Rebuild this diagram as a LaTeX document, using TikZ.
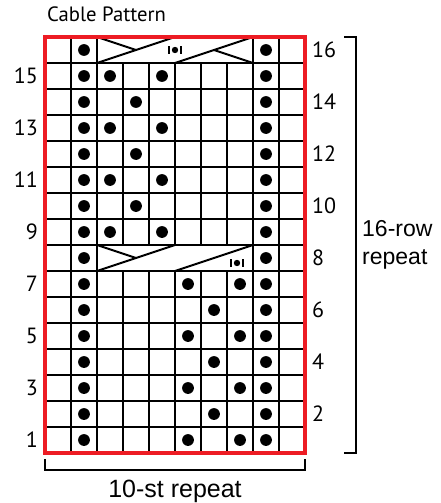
\documentclass[tikz,border=0pt]{standalone}
\usepackage{fontspec}
\setmainfont{PT Sans}
\newfontfamily\arl{Liberation Sans}
\definecolor{chartred}{RGB}{237,28,36}
\begin{document}
\begin{tikzpicture}[x=1pt,y=-1pt,
  gridline/.style={line width=2pt,black},
  cableline/.style={line width=2pt,black,line cap=round},
  rowlab/.style={font=\fontsize{22}{22}\selectfont,inner sep=0pt},
  bracketline/.style={line width=2pt,black},
  bigtext/.style={font=\arl\fontsize{23}{28}\selectfont,inner sep=0pt},
]
\useasboundingbox (0,0) rectangle (440,503);
% grid
\foreach \i in {1,...,9} \draw[gridline] (45+26*\i,37) -- (45+26*\i,453);
\foreach \j in {1,...,15} \draw[gridline] (45,37+26*\j) -- (305,37+26*\j);
% cable cells (rows 16 and 8)
\fill[white] (98,38) rectangle (252,62);
\fill[white] (98,246) rectangle (252,270);
% row 16 cable
\coordinate (a1) at (97,63);  \coordinate (a2) at (175,37);
\coordinate (a3) at (97,37);  \coordinate (a4) at (136,50);
\coordinate (a5) at (175,63); \coordinate (a6) at (253,37);
\coordinate (a7) at (214,50); \coordinate (a8) at (253,63);
\draw[cableline] (a1) -- (a2);
\draw[cableline] (a3) -- (a4);
\draw[cableline] (a5) -- (a6);
\draw[cableline] (a7) -- (a8);
% row 8 cable
\coordinate (b1) at (97,271);  \coordinate (b2) at (175,245);
\coordinate (b3) at (97,245);  \coordinate (b4) at (136,258);
\coordinate (b5) at (175,271); \coordinate (b6) at (253,245);
\draw[cableline] (b1) -- (b2);
\draw[cableline] (b3) -- (b4);
\draw[cableline] (b5) -- (b6);
% purl-symbol marks
\foreach \cx/\cy in {175/50, 237/263}{
  \fill (\cx-7,\cy-4) rectangle (\cx-5,\cy+4);
  \fill (\cx+5,\cy-4) rectangle (\cx+7,\cy+4);
  \fill (\cx,\cy) circle (3.2);
}
% dots
\foreach \r in {1,...,16}{
  \fill (45+26*1.5,453-26*\r+13) circle (5.9);
  \fill (45+26*8.5,453-26*\r+13) circle (5.9);
}
\foreach \r in {15,13,11,9}{
  \fill (45+26*2.5,453-26*\r+13) circle (5.9);
  \fill (45+26*4.5,453-26*\r+13) circle (5.9);
}
\foreach \r in {14,12,10}{
  \fill (45+26*3.5,453-26*\r+13) circle (5.9);
}
\foreach \r in {7,5,3,1}{
  \fill (45+26*5.5,453-26*\r+13) circle (5.9);
  \fill (45+26*7.5,453-26*\r+13) circle (5.9);
}
\foreach \r in {6,4,2}{
  \fill (45+26*6.5,453-26*\r+13) circle (5.9);
}
% red border
\draw[line width=4pt,chartred] (45,37) rectangle (305,453);
% row numbers
\foreach \r in {1,3,...,15}
  \node[rowlab,anchor=east] (L\r) at (38,453-26*\r+13) {\r};
\foreach \r in {2,4,...,16}
  \node[rowlab,anchor=west] (R\r) at (312,453-26*\r+13) {\r};
% title
\node[font=\fontsize{20.7}{20.7}\selectfont,inner sep=0pt,anchor=base west] (title) at (47,22) {Cable Pattern};
% right bracket
\coordinate (rb1) at (344,37); \coordinate (rb2) at (356,37);
\coordinate (rb3) at (356,453); \coordinate (rb4) at (344,453);
\draw[bracketline] (rb1) -- (rb2) -- (rb3) -- (rb4);
\node[bigtext,anchor=west,align=left] (rowrep) at (362,245) {16-row\\repeat};
% bottom bracket
\coordinate (bb1) at (45,459); \coordinate (bb2) at (45,470);
\coordinate (bb3) at (305,470); \coordinate (bb4) at (305,459);
\draw[bracketline] (bb1) -- (bb2) -- (bb3) -- (bb4);
\node[bigtext,font=\arl\fontsize{25}{25}\selectfont,anchor=base] (strep) at (175,497) {10-st repeat};
\end{tikzpicture}
\end{document}
